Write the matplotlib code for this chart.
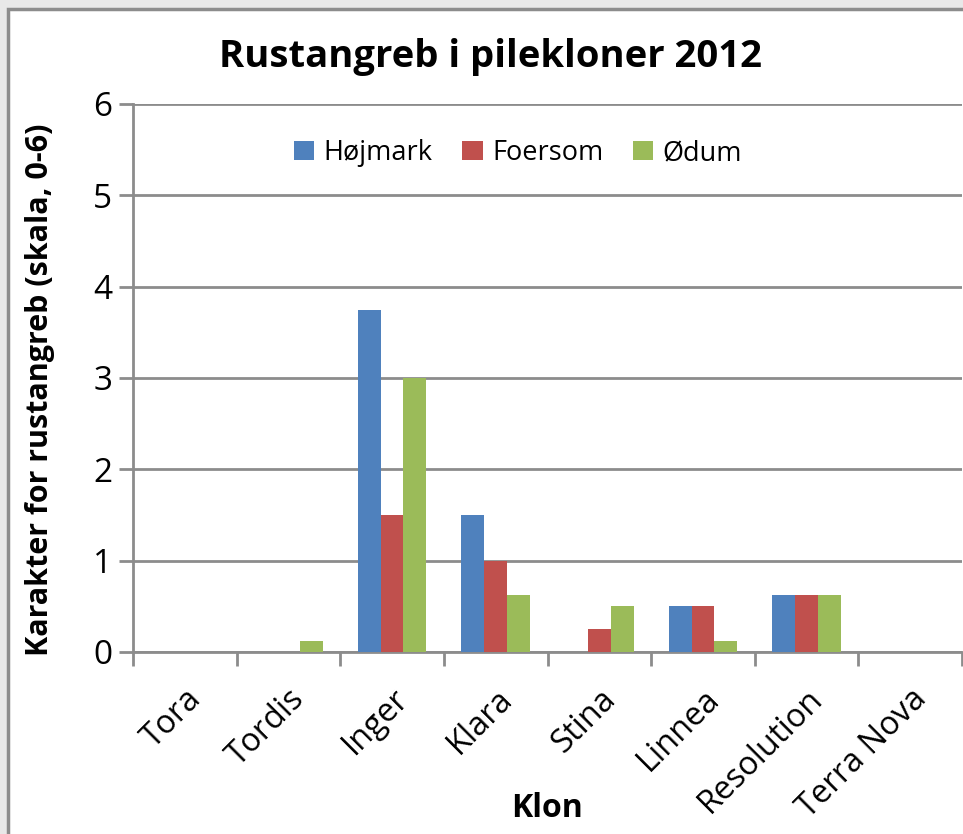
import matplotlib.pyplot as plt
import matplotlib.transforms as mtransforms
import numpy as np
from matplotlib.patches import Rectangle

clones = ["Tora", "Tordis", "Inger", "Klara", "Stina", "Linnea", "Resolution", "Terra Nova"]
hojmark = [0, 0, 3.75, 1.5, 0, 0.5, 0.625, 0]
foersom = [0, 0, 1.5, 1.0, 0.25, 0.5, 0.625, 0]
odum = [0, 0.125, 3.0, 0.625, 0.5, 0.125, 0.625, 0]
series = [("Højmark", hojmark, "#4F81BD"), ("Foersom", foersom, "#C0504D"), ("Ødum", odum, "#9BBB59")]

plt.rcParams["font.family"] = ["Open Sans", "DejaVu Sans"]
GRAY = "#8c8c8c"

fig = plt.figure(figsize=(9.63, 8.34), dpi=100, facecolor="#e8e8e8")
# white chart area with grey border (cut off on the right and bottom)
fig.patches.append(Rectangle((8 / 963, -0.05), 1.1, 1 - 9 / 834 + 0.05, transform=fig.transFigure,
                             facecolor="white", edgecolor=GRAY, linewidth=2.5, zorder=-10))

ax = fig.add_axes([133 / 963, 1 - 652 / 834, 829 / 963, 548 / 834])
ax.set_facecolor("none")

x = np.arange(len(clones))
w = 0.22
for i, (name, vals, color) in enumerate(series):
    ax.bar(x + (i - 1) * w, vals, width=w, color=color, label=name, zorder=3)

ax.set_xlim(-0.5, len(clones) - 0.5)
ax.set_ylim(0, 6)
ax.set_yticks(range(0, 7))
ax.set_xticks(np.arange(len(clones) + 1) - 0.5, minor=False)
ax.set_xticklabels([])
ax.set_xticks(x, minor=True)
ax.set_xticklabels(clones, minor=True, rotation=45, ha="right", rotation_mode="anchor", fontsize=23.5)
shift = mtransforms.ScaledTranslation(6 / 100, 0, fig.dpi_scale_trans)
for lbl in ax.get_xticklabels(minor=True):
    lbl.set_transform(lbl.get_transform() + shift)
ax.tick_params(axis="x", which="minor", length=0, pad=22)
ax.tick_params(axis="x", which="major", length=10, width=2, color=GRAY, direction="out")
ax.tick_params(axis="y", length=10, width=2, color=GRAY, direction="out", labelsize=24, pad=5)

ax.grid(axis="y", color=GRAY, linewidth=2, zorder=0)
ax.set_axisbelow(True)
for s in ["top", "right"]:
    ax.spines[s].set_visible(False)
for s in ["left", "bottom"]:
    ax.spines[s].set_color(GRAY)
    ax.spines[s].set_linewidth(2)

ax.set_ylabel("Karakter for rustangreb (skala, 0-6)", fontsize=22, fontweight="bold")
ax.yaxis.set_label_coords(-0.094, 0.478)
ax.set_xlabel("Klon", fontsize=23, fontweight="bold")
ax.xaxis.set_label_coords(0.5, -0.255)
fig.text(490 / 963, 1 - 57 / 834, "Rustangreb i pilekloner 2012", ha="center", va="center",
         fontsize=27.5, fontweight="bold")

ax.legend(loc="center", bbox_to_anchor=(518 / 963, 1 - 153 / 834), bbox_transform=fig.transFigure,
          ncol=3, frameon=False, fontsize=19.5, handlelength=0.75, handleheight=0.75,
          handletextpad=0.35, columnspacing=1.1)

fig.savefig("out.png", dpi=100, facecolor=fig.get_facecolor())
